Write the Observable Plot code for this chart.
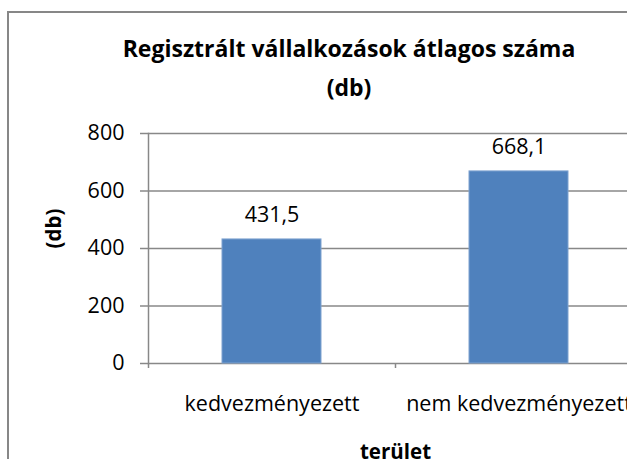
<!DOCTYPE html>
<html>
<head>
<meta charset="utf-8">
<script src="https://cdn.jsdelivr.net/npm/d3@7"></script>
<script src="https://cdn.jsdelivr.net/npm/@observablehq/plot@0.6"></script>
<style>
  html, body { margin: 0; padding: 0; background: #fff; overflow: hidden; }
  body { width: 627px; height: 459px; position: relative; font-family: "Open Sans", sans-serif; }
  #border { position: absolute; left: 7px; top: 11px; width: 700px; height: 500px;
            border-left: 2px solid #878787; border-top: 2px solid #878787; box-sizing: border-box; }
  #title { position: absolute; left: 0; width: 698px; top: 28.5px; text-align: center;
           font: bold 23px "Open Sans", sans-serif; line-height: 39px; color: #000; white-space: nowrap; }
  #chart { position: absolute; left: 0; top: 0; }
</style>
</head>
<body>
<div id="border"></div>
<div id="chart"></div>
<div id="title">Regisztrált vállalkozások átlagos száma<br>(db)</div>
<script>
const categories = ["kedvezményezett", "nem kedvezményezett"];
const values = [431.5, 668.1];
const yTicks = [0, 200, 400, 600, 800];
const yLabel = "(db)";
const xLabel = "terület";

const data = categories.map((c, i) => ({cat: c, value: values[i]}));
const fmt = v => v.toFixed(1).replace(".", ",");

const W = 627, H = 459, mL = 148, mR = -15, mT = 133, mB = 96;
const pInner = 0.6, pOuter = 0.3;
const step = (W - mL - mR) / (categories.length - pInner + 2 * pOuter);
const gray = "#888888";
const fs = 21.5;
const fsLabel = 20.5;

const plot = Plot.plot({
  width: W, height: H,
  marginLeft: mL, marginRight: mR, marginTop: mT, marginBottom: mB,
  style: {fontFamily: "Open Sans, sans-serif", fontSize: fs + "px", color: "#000", background: "transparent", overflow: "visible"},
  x: {type: "band", domain: categories, paddingInner: pInner, paddingOuter: pOuter, align: 0.5},
  y: {domain: [0, 800]},
  marks: [
    Plot.gridY(yTicks, {stroke: gray, strokeOpacity: 1, strokeWidth: 1.5}),
    Plot.frame({anchor: "left", stroke: gray, strokeWidth: 1.5}),
    Plot.axisY({ticks: yTicks, tickSize: 8, tickPadding: 16, stroke: gray, strokeWidth: 1.5, strokeOpacity: 1, fontSize: fs, fill: "#000", label: null}),
    Plot.axisX({ticks: categories, tickSize: 5, dx: -step / 2, tickFormat: () => "", stroke: gray, strokeWidth: 1.5, strokeOpacity: 1, label: null}),
    Plot.axisX({ticks: categories, tickSize: 0, tickPadding: 32, fontSize: fs, fill: "#000", label: null}),
    Plot.barY(data, {x: "cat", y: "value", fill: "#4F81BD", stroke: "#7EA2CF", strokeWidth: 1}),
    Plot.text(data, {x: "cat", y: "value", text: d => fmt(d.value), lineAnchor: "bottom", dy: -17, fontSize: fs, fill: "#000"}),
    Plot.text([yLabel], {frameAnchor: "left", dx: -94, rotate: -90, text: d => d, fontWeight: "bold", fontSize: fsLabel, fill: "#000"}),
    Plot.text([xLabel], {frameAnchor: "bottom", dy: 95, lineAnchor: "bottom", text: d => d, fontWeight: "bold", fontSize: fsLabel, fill: "#000"})
  ]
});
document.getElementById("chart").appendChild(plot);
</script>
</body>
</html>
